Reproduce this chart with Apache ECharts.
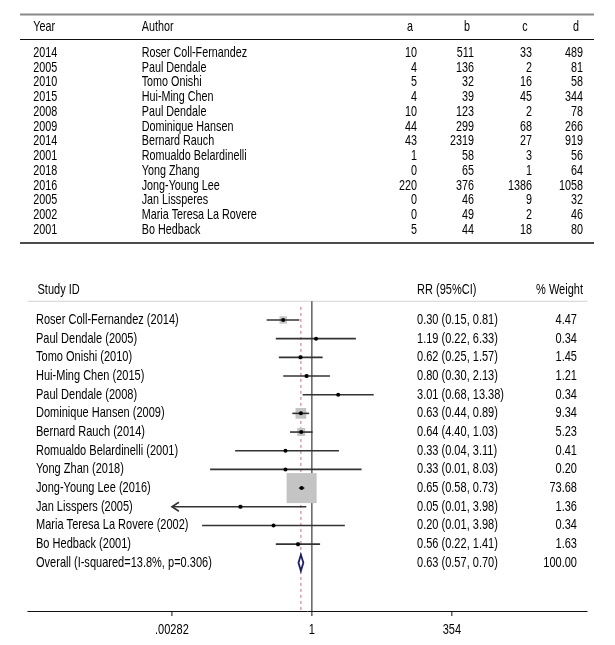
<!DOCTYPE html>
<html><head><meta charset="utf-8">
<script src="https://cdn.jsdelivr.net/npm/echarts@6/dist/echarts.min.js"></script>
<style>html,body{margin:0;padding:0;background:#fff}#c{width:615px;height:645px}</style>
</head><body><div id="c"></div>
<script>
// ---------- top table data ----------
const years   = ['2014','2005','2010','2015','2008','2009','2014','2001','2018','2016','2005','2002','2001'];
const authors = ['Roser Coll-Fernandez','Paul Dendale','Tomo Onishi','Hui-Ming Chen','Paul Dendale','Dominique Hansen','Bernard Rauch','Romualdo Belardinelli','Yong Zhang','Jong-Young Lee','Jan Lissperes','Maria Teresa La Rovere','Bo Hedback'];
const colA = [10,4,5,4,10,44,43,1,0,220,0,0,5];
const colB = [511,136,32,39,123,299,2319,58,65,376,46,49,44];
const colC = [33,2,16,45,2,68,27,3,1,1386,9,2,18];
const colD = [489,81,58,344,78,266,919,56,64,1058,32,46,80];
const tableHeaders = ['Year','Author','a','b','c','d'];

// ---------- forest plot data ----------
const studyLabels = ['Roser Coll-Fernandez (2014)','Paul Dendale (2005)','Tomo Onishi (2010)','Hui-Ming Chen (2015)','Paul Dendale (2008)','Dominique Hansen (2009)','Bernard Rauch (2014)','Romualdo Belardinelli (2001)','Yong Zhan (2018)','Jong-Young Lee (2016)','Jan Lisspers (2005)','Maria Teresa La Rovere (2002)','Bo Hedback (2001)'];
const rr      = [0.30,1.19,0.62,0.80,3.01,0.63,0.64,0.33,0.33,0.65,0.05,0.20,0.56];
const ciLow   = [0.15,0.22,0.25,0.30,0.68,0.44,0.40,0.04,0.014,0.58,0.002,0.01,0.22];
const ciHigh  = [0.59,6.33,1.57,2.13,13.38,0.89,1.03,3.11,8.03,0.73,0.79,3.98,1.41];
const weights = [4.47,0.34,1.45,1.21,0.34,9.34,5.23,0.41,0.20,73.68,1.36,0.34,1.63];
const ciText  = ['0.30 (0.15, 0.81)','1.19 (0.22, 6.33)','0.62 (0.25, 1.57)','0.80 (0.30, 2.13)','3.01 (0.68, 13.38)','0.63 (0.44, 0.89)','0.64 (4.40, 1.03)','0.33 (0.04, 3.11)','0.33 (0.01, 8.03)','0.65 (0.58, 0.73)','0.05 (0.01, 3.98)','0.20 (0.01, 3.98)','0.56 (0.22, 1.41)'];
const overallLabel = 'Overall (I-squared=13.8%, p=0.306)';
const overallRR = 0.63, overallLow = 0.57, overallHigh = 0.70;
const overallText = '0.63 (0.57, 0.70)';
const overallWeight = '100.00';
const forestHeaders = ['Study ID','RR (95%CI)','% Weight'];
const tickValues = [0.00282, 1, 354];
const tickLabels = ['.00282','1','354'];

// ---------- layout / style ----------
const FONT = '"Liberation Sans",Arimo,Arial,sans-serif';
const SX = 0.76;
const FS_T = 14.2, FS_F = 14.5;
const L10 = Math.log10;
const X_MIN = -5.18, X_MAX = 5.02;
const Y_MIN = -1, Y_MAX = 15.58;
const clipLow = L10(tickValues[0]);

const chart = echarts.init(document.getElementById('c'), null, {renderer: 'canvas'});

function txt(x, y, s, align, fs) {
  return {type: 'text', x: x, y: y, scaleX: SX,
    style: {text: s, font: fs + 'px ' + FONT, fill: '#000', align: align || 'left', verticalAlign: 'middle'}};
}

// table graphics
const g = [];
const tRow0 = 53, tStep = 14.75;
const colX = {year: 33.3, author: 141.7};
const numRight = [417, 474, 532, 583];
const hdrCenter = [410, 467, 525, 576];
g.push({type: 'rect', shape: {x: 20, y: 13.5, width: 574, height: 2}, style: {fill: '#8a8a8a'}});
g.push({type: 'rect', shape: {x: 20, y: 39, width: 574, height: 1}, style: {fill: '#111'}});
g.push({type: 'rect', shape: {x: 20, y: 242.3, width: 574, height: 1.5}, style: {fill: '#111'}});
g.push(txt(colX.year, 27, tableHeaders[0], 'left', FS_T));
g.push(txt(colX.author, 27, tableHeaders[1], 'left', FS_T));
for (let k = 0; k < 4; k++) g.push(txt(hdrCenter[k], 27, tableHeaders[k + 2], 'center', FS_T));
const cols = [colA, colB, colC, colD];
years.forEach((yv, i) => {
  const y = tRow0 + tStep * i;
  g.push(txt(colX.year, y, yv, 'left', FS_T));
  g.push(txt(colX.author, y, authors[i], 'left', FS_T));
  cols.forEach((c, k) => g.push(txt(numRight[k], y, String(c[i]), 'right', FS_T)));
});

// forest data
const markData = rr.map((v, i) => [i, L10(v), L10(ciLow[i]), L10(ciHigh[i]), weights[i]]);
const textData = studyLabels.map((s, i) => [i, s, ciText[i], weights[i].toFixed(2)]);
textData.push([13, overallLabel, overallText, overallWeight]);

chart.setOption({
  animation: false,
  backgroundColor: '#fff',
  graphic: g,
  grid: {left: 27.5, right: 27.5, top: 301.3, bottom: 34},
  xAxis: {
    type: 'value', min: X_MIN, max: X_MAX,
    splitLine: {show: false},
    axisLine: {show: false},
    axisTick: {show: false},
    axisLabel: {show: false}
  },
  yAxis: {type: 'value', inverse: true, min: Y_MIN, max: Y_MAX, show: false},
  series: [
    {
      type: 'custom', name: 'refLines', clip: false,
      data: [[0]],
      renderItem: (params, api) => {
        const hl = api.coord([X_MIN, Y_MIN]), hr = api.coord([X_MAX, Y_MIN]);
        const al = api.coord([X_MIN, Y_MAX]), ar = api.coord([X_MAX, Y_MAX]);
        const nt = api.coord([0, Y_MIN]), nb = api.coord([0, Y_MAX]);
        const dt = api.coord([L10(overallRR), -0.7]), db = api.coord([L10(overallRR), Y_MAX]);
        return {type: 'group', children: [
          {type: 'line', shape: {x1: hl[0], y1: hl[1], x2: hr[0], y2: hr[1]}, style: {stroke: '#d4d4d4', lineWidth: 1}},
          {type: 'line', shape: {x1: al[0], y1: al[1] + 0.5, x2: ar[0], y2: ar[1] + 0.5}, style: {stroke: '#111', lineWidth: 1}},
          {type: 'line', shape: {x1: nt[0], y1: nt[1], x2: nb[0], y2: nb[1]}, style: {stroke: '#111', lineWidth: 1}},
          {type: 'line', shape: {x1: dt[0], y1: dt[1], x2: db[0], y2: db[1]}, style: {stroke: '#c98a96', lineWidth: 1.2, lineDash: [3, 3]}}
        ]};
      }
    },
    {
      type: 'custom', name: 'axis', clip: false,
      data: tickValues.map(t => [L10(t)]),
      renderItem: (params, api) => {
        const p = api.coord([api.value(0), Y_MAX]);
        return {type: 'group', children: [
          {type: 'rect', shape: {x: p[0] - 0.5, y: p[1], width: 1, height: 5}, style: {fill: '#111'}},
          txt(p[0], p[1] + 19, tickLabels[params.dataIndex], 'center', FS_F)
        ]};
      }
    },
    {
      type: 'custom', name: 'studies', clip: false,
      data: markData,
      renderItem: (params, api) => {
        const i = api.value(0);
        const c = api.coord([api.value(1), i]);
        const lo = api.value(2), hi = api.value(3);
        const clipped = lo < clipLow;
        const pLo = api.coord([clipped ? clipLow : lo, i]);
        const pHi = api.coord([hi, i]);
        const side = 3.5 * Math.sqrt(api.value(4));
        const ch = [];
        ch.push({type: 'rect', shape: {x: c[0] - side / 2, y: c[1] - side / 2, width: side, height: side}, style: {fill: '#c4c4c4'}});
        ch.push({type: 'line', shape: {x1: pLo[0], y1: c[1], x2: pHi[0], y2: c[1]}, style: {stroke: '#333', lineWidth: 1.6}});
        if (clipped) {
          ch.push({type: 'polyline', shape: {points: [[pLo[0] + 7, c[1] - 4.5], [pLo[0], c[1]], [pLo[0] + 7, c[1] + 4.5]]}, style: {stroke: '#333', lineWidth: 1.6, fill: null}});
        }
        ch.push({type: 'circle', shape: {cx: c[0], cy: c[1], r: 2}, style: {fill: '#000'}});
        return {type: 'group', children: ch};
      }
    },
    {
      type: 'custom', name: 'overall', clip: false,
      data: [[13, L10(overallRR), L10(overallLow), L10(overallHigh)]],
      renderItem: (params, api) => {
        const i = api.value(0);
        const c = api.coord([api.value(1), i]);
        const a = api.coord([api.value(2), i]);
        const b = api.coord([api.value(3), i]);
        return {type: 'polygon', shape: {points: [[a[0], c[1]], [c[0], c[1] - 8], [b[0], c[1]], [c[0], c[1] + 8]]}, style: {fill: '#fff', stroke: '#1f1f66', lineWidth: 1.8}};
      }
    },
    {
      type: 'custom', name: 'texts', clip: false,
      data: textData,
      renderItem: (params, api) => {
        const d = textData[params.dataIndex];
        const y = api.coord([0, d[0]])[1];
        const ch = [txt(36, y, d[1], 'left', FS_F), txt(417, y, d[2], 'left', FS_F), txt(577, y, d[3], 'right', FS_F)];
        if (params.dataIndex === 0) {
          const yh = api.coord([0, -1.6])[1];
          ch.push(txt(37.5, yh, forestHeaders[0], 'left', FS_F));
          ch.push(txt(417, yh, forestHeaders[1], 'left', FS_F));
          ch.push(txt(583, yh, forestHeaders[2], 'right', FS_F));
        }
        return {type: 'group', children: ch};
      }
    }
  ]
});
</script></body></html>
